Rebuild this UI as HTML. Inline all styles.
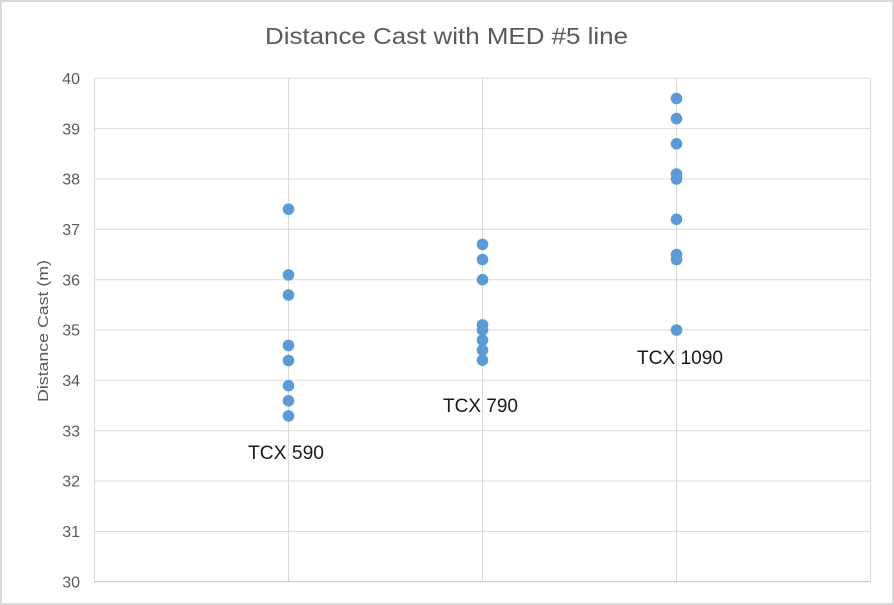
<!DOCTYPE html>
<html><head><meta charset="utf-8"><style>
html,body{margin:0;padding:0;background:#fff;}
svg{display:block;}
</style></head><body>
<svg width="894" height="605" viewBox="0 0 894 605" xmlns="http://www.w3.org/2000/svg">
<rect x="0" y="0" width="894" height="605" fill="#fff"/>
<rect x="1" y="1" width="892" height="603" fill="none" stroke="#d9d9d9" stroke-width="2"/>
<text x="446.5" y="44" text-anchor="middle" font-family="Liberation Sans, sans-serif" font-size="23" fill="#595959" textLength="363" lengthAdjust="spacingAndGlyphs">Distance Cast with MED #5 line</text>
<g stroke="#d9d9d9" stroke-width="1" fill="none">
<line x1="94.5" y1="78.3" x2="870.5" y2="78.3"/>
<line x1="94.5" y1="128.6" x2="870.5" y2="128.6"/>
<line x1="94.5" y1="179" x2="870.5" y2="179"/>
<line x1="94.5" y1="229.3" x2="870.5" y2="229.3"/>
<line x1="94.5" y1="279.7" x2="870.5" y2="279.7"/>
<line x1="94.5" y1="330" x2="870.5" y2="330"/>
<line x1="94.5" y1="380.3" x2="870.5" y2="380.3"/>
<line x1="94.5" y1="430.7" x2="870.5" y2="430.7"/>
<line x1="94.5" y1="481" x2="870.5" y2="481"/>
<line x1="94.5" y1="531.4" x2="870.5" y2="531.4"/>
<line x1="94.5" y1="78.3" x2="94.5" y2="581.7"/>
<line x1="288.5" y1="78.3" x2="288.5" y2="581.7"/>
<line x1="482.5" y1="78.3" x2="482.5" y2="581.7"/>
<line x1="676.5" y1="78.3" x2="676.5" y2="581.7"/>
<line x1="870.5" y1="78.3" x2="870.5" y2="581.7"/>
</g>
<line x1="94.5" y1="581.7" x2="870.5" y2="581.7" stroke="#bfbfbf" stroke-width="1"/>
<g font-family="Liberation Sans, sans-serif" font-size="16" fill="#595959" text-anchor="end">
<text x="80" y="84">40</text>
<text x="80" y="134.3">39</text>
<text x="80" y="184.7">38</text>
<text x="80" y="235">37</text>
<text x="80" y="285.4">36</text>
<text x="80" y="335.7">35</text>
<text x="80" y="386">34</text>
<text x="80" y="436.4">33</text>
<text x="80" y="486.7">32</text>
<text x="80" y="537.1">31</text>
<text x="80" y="587.4">30</text>
</g>
<text transform="translate(48,331) rotate(-90)" text-anchor="middle" font-family="Liberation Sans, sans-serif" font-size="15" fill="#595959" textLength="142" lengthAdjust="spacingAndGlyphs">Distance Cast (m)</text>
<g fill="#5b9bd5">
<circle cx="288.5" cy="209.2" r="5.8"/>
<circle cx="288.5" cy="274.9" r="5.8"/>
<circle cx="288.5" cy="295" r="5.8"/>
<circle cx="288.5" cy="345.4" r="5.8"/>
<circle cx="288.5" cy="360.5" r="5.8"/>
<circle cx="288.5" cy="385.7" r="5.8"/>
<circle cx="288.5" cy="400.8" r="5.8"/>
<circle cx="288.5" cy="415.9" r="5.8"/>

<circle cx="482.5" cy="244.4" r="5.8"/>
<circle cx="482.5" cy="259.5" r="5.8"/>
<circle cx="482.5" cy="279.7" r="5.8"/>
<circle cx="482.5" cy="324.9" r="5.8"/>
<circle cx="482.5" cy="330" r="5.8"/>
<circle cx="482.5" cy="340.1" r="5.8"/>
<circle cx="482.5" cy="350.1" r="5.8"/>
<circle cx="482.5" cy="360.2" r="5.8"/>

<circle cx="676.5" cy="98.5" r="5.8"/>
<circle cx="676.5" cy="118.6" r="5.8"/>
<circle cx="676.5" cy="143.8" r="5.8"/>
<circle cx="676.5" cy="174" r="5.8"/>
<circle cx="676.5" cy="179" r="5.8"/>
<circle cx="676.5" cy="219.3" r="5.8"/>
<circle cx="676.5" cy="254.5" r="5.8"/>
<circle cx="676.5" cy="259.5" r="5.8"/>
<circle cx="676.5" cy="330" r="5.8"/>
</g>
<g font-family="Liberation Sans, sans-serif" font-size="19" fill="#1a1a1a">
<text x="248" y="459" textLength="76" lengthAdjust="spacingAndGlyphs">TCX 590</text>
<text x="443" y="412" textLength="75" lengthAdjust="spacingAndGlyphs">TCX 790</text>
<text x="637" y="364" textLength="86" lengthAdjust="spacingAndGlyphs">TCX 1090</text>
</g>
</svg>
</body></html>
